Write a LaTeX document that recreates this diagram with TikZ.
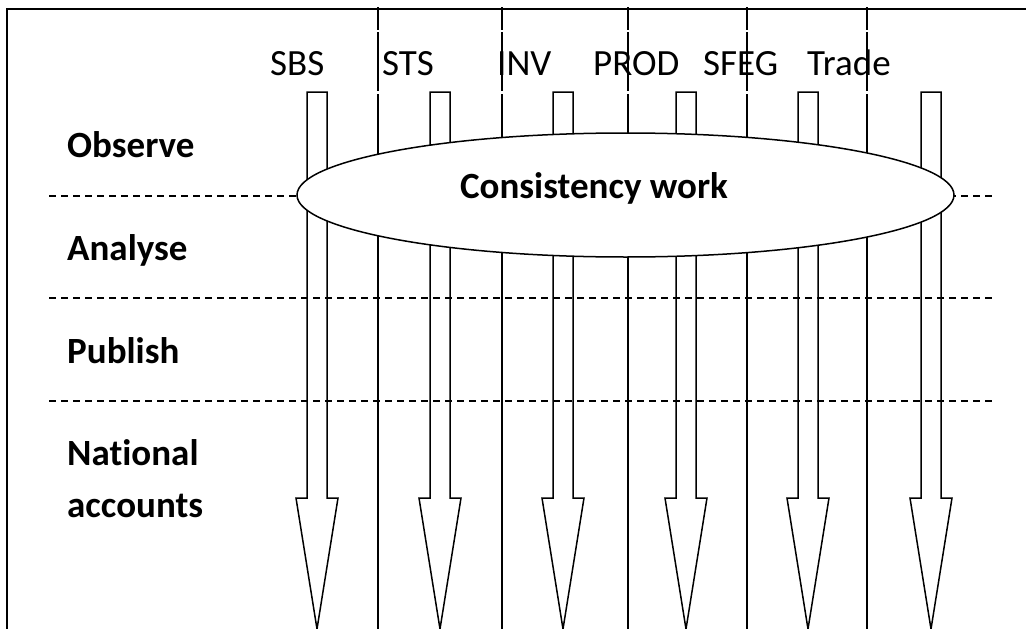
\documentclass[tikz,border=0pt]{standalone}
\usepackage{fontspec}
\setmainfont{Carlito}[Ligatures=CommonOff]
\usetikzlibrary{shapes.geometric}

\tikzset{
  rule/.style={line width=1.5pt, black},
  phase/.style={rule, dash pattern=on 7pt off 5pt},
  column/.style={rule, dash pattern=on 23pt off 2pt on 59pt off 3pt on 700pt},
  flow/.style={rule, line join=miter},
  survey/.style={anchor=base west, inner sep=0pt, font=\fontsize{37}{44}\selectfont},
  stage/.style={anchor=base west, inner sep=0pt, align=left,
                font=\fontsize{37}{52}\selectfont\bfseries},
  hub/.style={ellipse, draw, rule, fill=white, inner sep=0pt,
              minimum width=657pt, minimum height=124pt},
}

\begin{document}
\begin{tikzpicture}[x=1pt, y=-1pt]
  \useasboundingbox (0,0) rectangle (1026,629);

  % outer frame: left and top edges
  \coordinate (frameTL) at (7,9);
  \draw[rule] (7,629) -- (frameTL) -- (1026,9);

  % boundaries between the processing stages
  \foreach \y in {196,298,401}
    \draw[phase] (49,\y) -- (995,\y);

  % column separators
  \foreach \x in {378,502,628,747,867}
    \draw[column] (\x,7) -- (\x,629);

  % one block arrow per statistic
  \foreach \c in {317,440,563,686,808,931}
    \draw[flow] (\c-10,92) -- (\c+10,92) -- (\c+10,498) -- (\c+21,498)
      -- (\c,629) -- (\c-21,498) -- (\c-10,498) -- cycle;

  % shared consistency work
  \node[hub] (cons) at (625.5,195) {};
  \node[anchor=base, inner sep=0pt, font=\fontsize{37}{40}\selectfont\bfseries]
    (consText) at (594,198) {Consistency work};

  % statistic names
  \node[survey] (sbs)   at (270,75) {SBS};
  \node[survey] (sts)   at (382,75) {STS};
  \node[survey] (inv)   at (497,75) {INV};
  \node[survey] (prod)  at (593,75) {PROD};
  \node[survey] (sfeg)  at (703,75) {SFEG};
  \node[survey] (trade) at (807,75) {Trade};

  % stage names
  \node[stage] (observe) at (67,157) {Observe};
  \node[stage] (analyse) at (67,260) {Analyse};
  \node[stage] (publish) at (67,363) {Publish};
  \node[stage] (natacc)  at (67,517) {National\\accounts};
\end{tikzpicture}
\end{document}
